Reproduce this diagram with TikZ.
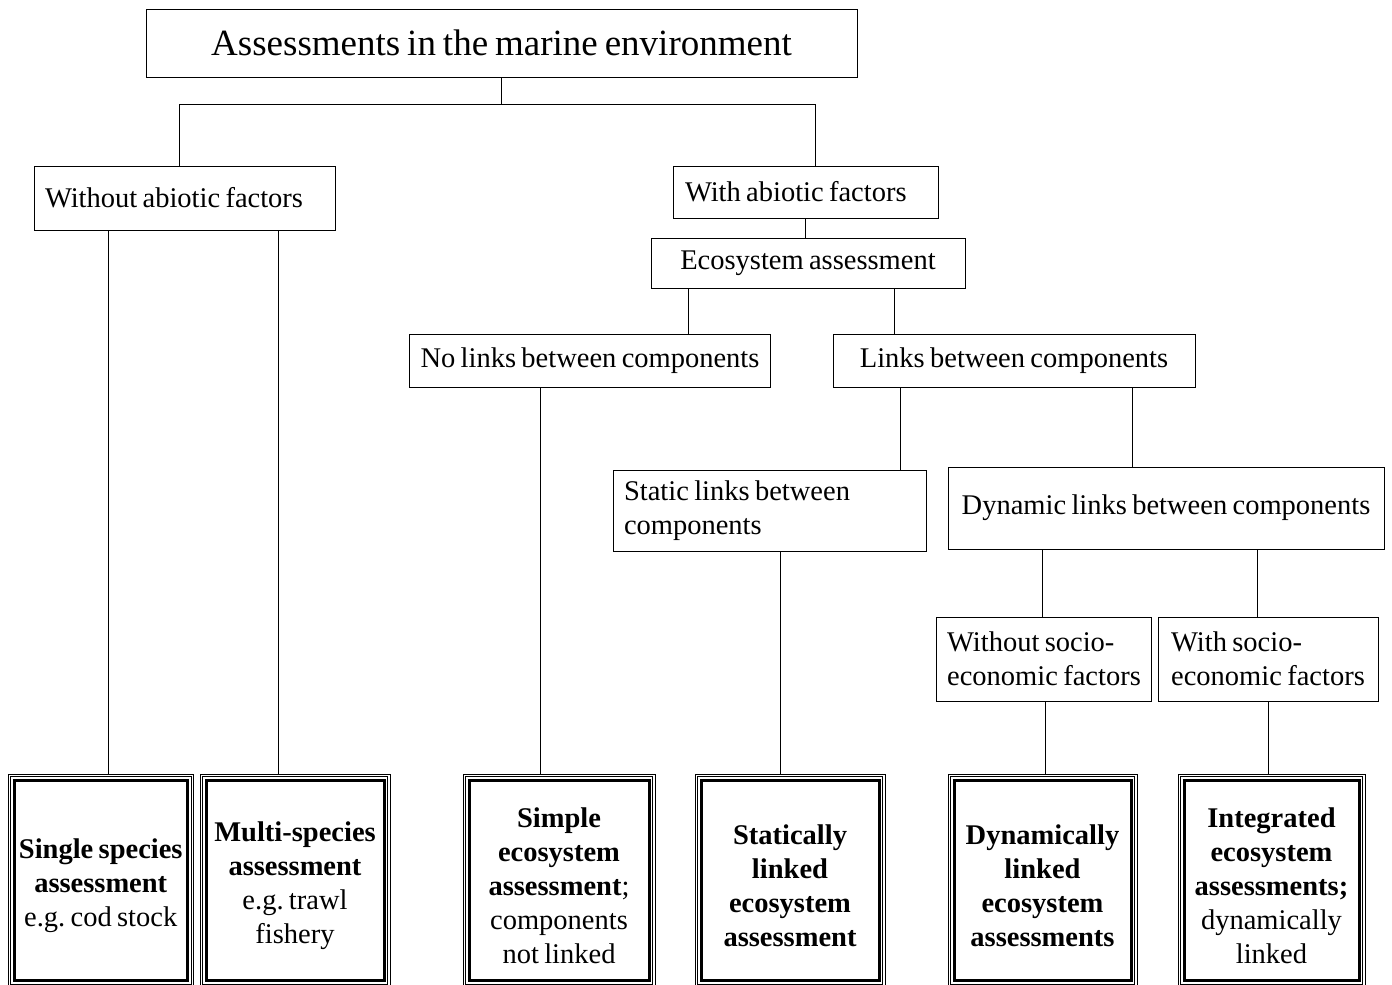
\documentclass[tikz,border=0pt]{standalone}
\usepackage{fontspec}
\setmainfont{Liberation Serif}[WordSpace=0.75]
\frenchspacing
\usetikzlibrary{calc}

\tikzset{
  box/.style={draw, line width=0.8pt, inner ysep=0pt, inner xsep=11pt, font=\fontsize{28.5}{34}\selectfont},
  link/.style={line width=0.8pt},
  result/.style={draw, line width=0.8pt, inner sep=0pt, text width=#1, minimum height=212.5pt,
    align=flush center, font=\fontsize{28.5}{34}\selectfont, execute at begin node={\rule{0pt}{31pt}},
    path picture={
      \draw[line width=0.7pt] ([shift={(2.5pt,-2.5pt)}]path picture bounding box.north west) rectangle ([shift={(-2.5pt,2.5pt)}]path picture bounding box.south east);
      \draw[line width=3pt] ([shift={(6pt,-6pt)}]path picture bounding box.north west) rectangle ([shift={(-6pt,6pt)}]path picture bounding box.south east);
    }},
}

\begin{document}
\begin{tikzpicture}[x=1pt, y=-1pt]
    \useasboundingbox (0,0) rectangle (1392,985);
    \node[box, minimum width=711pt, minimum height=68pt, font=\fontsize{37}{42}\selectfont] (title) at (501.5,43) {Assessments in the marine environment};
    \node[box, text width=279pt, minimum height=64pt, align=flush left] (noabio) at (184.5,198) {Without abiotic factors};
    \node[box, inner xsep=12pt, text width=241pt, minimum height=52pt, align=flush left] (abio) at (805.5,192) {With abiotic factors};
    \node[box, minimum width=314pt, minimum height=50pt] (eco) at (808,263) {Ecosystem assessment};
    \node[box, minimum width=358pt, minimum height=53pt] (nolinks) at (590,360.5) {No links between components};
    \node[box, minimum width=362pt, minimum height=53pt] (links) at (1014,360.5) {Links between components};
    \node[box, text width=291pt, minimum height=81pt, align=flush left] (static) at (769.5,510.5) {Static links between\\components};
    \node[box, minimum width=436pt, minimum height=82pt] (dynamic) at (1166,508) {Dynamic links between components};
    \node[box, minimum width=210pt, minimum height=84pt, align=left] (nosocio) at (1044,659) {Without socio-\\economic factors};
    \node[box, minimum width=220pt, minimum height=84pt, align=left] (socio) at (1268,659) {With socio-\\economic factors};
    \node[result=185.5pt] (single) at (100.75,880.25) {\textbf{Single species}\\\textbf{assessment}\\e.g. cod stock};
    \node[result=190pt] (multi) at (295,880.25) {\textbf{Multi-species}\\\textbf{assessment}\\e.g. trawl\\fishery};
    \node[result=192pt] (simple) at (559,880.25) {\textbf{Simple}\\\textbf{ecosystem}\\\textbf{assessment};\\components\\not linked};
    \node[result=190pt] (statically) at (790,880.25) {\textbf{Statically}\\\textbf{linked}\\\textbf{ecosystem}\\\textbf{assessment}};
    \node[result=189pt] (dynamically) at (1042.5,880.25) {\textbf{Dynamically}\\\textbf{linked}\\\textbf{ecosystem}\\\textbf{assessments}};
    \node[result=187pt] (integrated) at (1271.5,880.25) {\textbf{Integrated}\\\textbf{ecosystem}\\\textbf{assessments;}\\dynamically\\linked};
    \draw[link] (title.south) -- ++(0,27) coordinate (split);
    \draw[link] (noabio.north -| 179,0) |- (split) -| (abio.north -| 815,0);
    \draw[link] (abio.south) -- (abio.south |- eco.north);
    \draw[link] (eco.south -| 688,0) -- (nolinks.north -| 688,0);
    \draw[link] (eco.south -| 894,0) -- (links.north -| 894,0);
    \draw[link] (links.south -| 900,0) -- (static.north -| 900,0);
    \draw[link] (links.south -| 1132,0) -- (dynamic.north -| 1132,0);
    \draw[link] (dynamic.south -| 1042,0) -- (nosocio.north -| 1042,0);
    \draw[link] (dynamic.south -| 1257,0) -- (socio.north -| 1257,0);
    \draw[link] (noabio.south -| 108,0) -- (single.north -| 108,0);
    \draw[link] (noabio.south -| 278,0) -- (multi.north -| 278,0);
    \draw[link] (nolinks.south -| 540,0) -- (simple.north -| 540,0);
    \draw[link] (static.south -| 780,0) -- (statically.north -| 780,0);
    \draw[link] (nosocio.south -| 1045,0) -- (dynamically.north -| 1045,0);
    \draw[link] (socio.south -| 1268,0) -- (integrated.north -| 1268,0);
\end{tikzpicture}
\end{document}
